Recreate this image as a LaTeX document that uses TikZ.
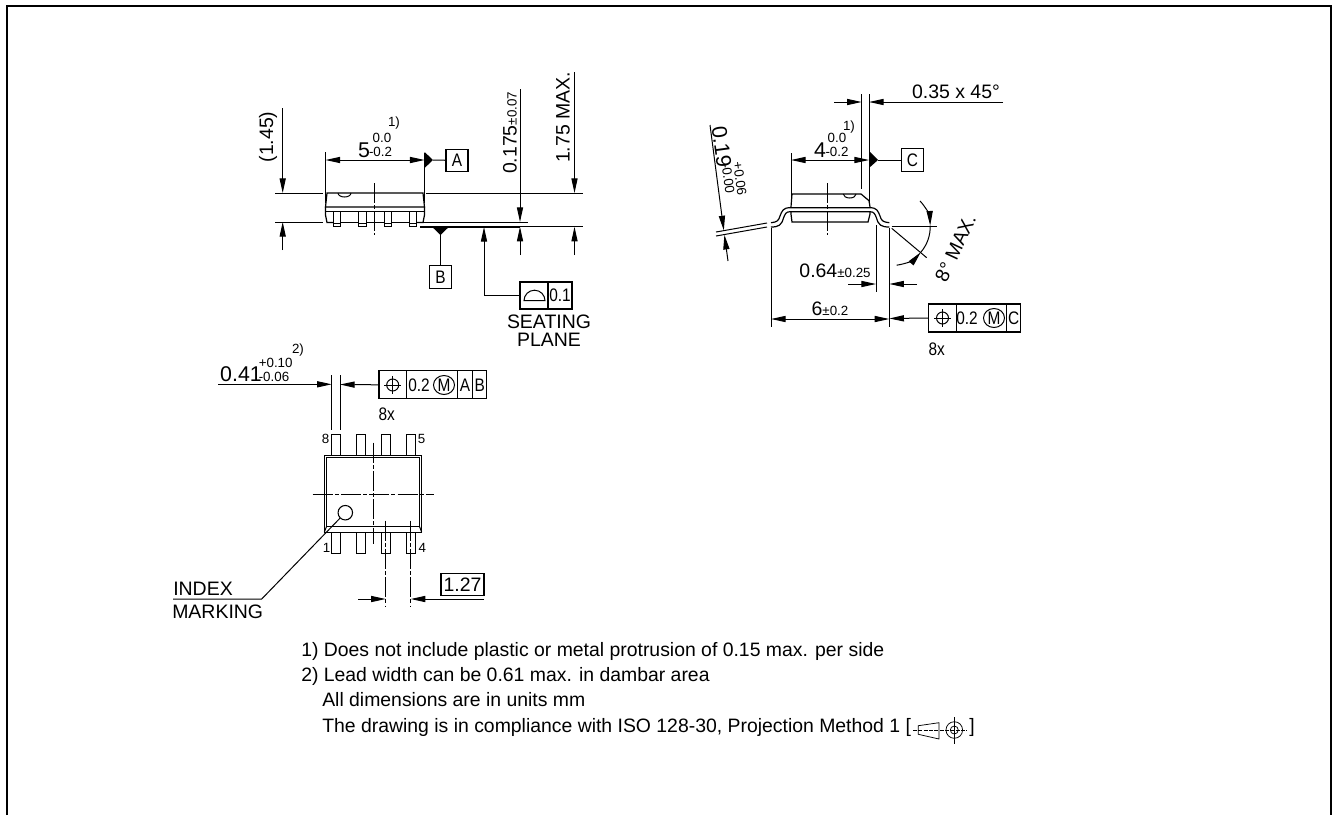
\documentclass[tikz,border=0pt]{standalone}
\usepackage{fontspec}
\usepackage{graphicx}
\setmainfont{Liberation Sans}
\usetikzlibrary{arrows.meta,calc}
\newcommand{\fbig}{\fontsize{14.6}{16}\selectfont}
\newcommand{\fdim}{\fontsize{16}{18}\selectfont}
\newcommand{\fsm}{\fontsize{10}{12}\selectfont}
\newcommand{\fnote}{\fontsize{14.55}{16}\selectfont}
\newcommand{\fiso}{\fontsize{13.6}{15}\selectfont}
\newcommand{\nar}[1]{\scalebox{.85}[1]{#1}}
\newcommand{\possym}[1]{%
  \draw[ln] (#1) circle[radius=6];
  \draw[ln] ($(#1)+(-8.5,0)$) -- ($(#1)+(8.5,0)$);
  \draw[ln] ($(#1)+(0,-9)$) -- ($(#1)+(0,9)$);}
\tikzset{
  ln/.style={line width=.75pt,black},
  thn/.style={line width=.55pt,black},
  bd/.style={line width=.9pt,black,line join=miter},
  cl/.style={line width=.7pt,black,dash pattern=on 15pt off 1.6pt on 3pt off 1.6pt},
  dimarr/.style={-{Triangle[length=11pt,width=4.6pt]}},
  dimboth/.style={{Triangle[length=11pt,width=4.6pt]}-{Triangle[length=11pt,width=4.6pt]}},
  tb/.style={inner sep=0pt,font=\fbig},
  td/.style={inner sep=0pt,font=\fdim},
  ts/.style={inner sep=0pt,font=\fsm},
  tn/.style={inner sep=0pt,font=\fnote,anchor=base west},
  ti/.style={inner sep=0pt,font=\fiso},
  frm/.style={draw,line width=.8pt,inner sep=0pt,minimum width=#1*.75pt,minimum height=22.5*.75pt,font=\fiso},
  frm/.default=22,
}
\begin{document}
\begin{tikzpicture}[x=.75pt,y=-.75pt]
\useasboundingbox (0,0) rectangle (1332,815);
% frame
\coordinate (f1) at (7,815); \coordinate (f2) at (7,6); \coordinate (f3) at (1331,6); \coordinate (f4) at (1331,815);
\draw[line width=.8pt] (f1) -- (f2) -- (f3) -- (f4);

%%%%% SIDE VIEW
\draw[ln] (275,193) -- (323,193);
\draw[ln] (275,222) -- (323,222);
\draw[ln] (426,193) -- (583,193);
\draw[ln] (422,222) -- (528,222);
\draw[line width=1.2pt] (420,226.8) -- (520,226.8);
\draw[ln] (520,226.8) -- (583,226.8);
\draw[ln] (325.5,152) -- (325.5,203);
\draw[ln] (424.6,153) -- (424.6,203);
\draw[dimboth,ln] (325.5,160) -- (424.6,160);
% body
\draw[bd] (327,193) -- (423,193) -- (424.5,207) -- (325.5,207) -- cycle;
\draw[ln] (325.5,211) -- (424.5,211);
\draw[bd] (325.5,207) -- (325.5,215) -- (327,222.5) -- (333.3,222.5);
\draw[bd] (424.5,207) -- (424.5,215) -- (423,222.5) -- (416.7,222.5);
\draw[bd] (340.7,222.5) -- (358.3,222.5) (366,222.5) -- (384,222.5) (391.7,222.5) -- (409.3,222.5);
\foreach \xa/\xb in {333.3/340.7,358.3/366,384/391.7,409.3/416.7}{
  \draw[ln] (\xa,211) rectangle (\xb,226.7);
  \draw[ln] (\xa,223) -- (\xb,223);
}
\draw[ln] (338,193) arc[start angle=180,end angle=0,x radius=6.5,y radius=4];
\draw[cl] (374.3,183) -- (374.3,235);
% (1.45)
\draw[ln,dimarr] (282.7,108) -- (282.7,193);
\draw[ln,dimarr] (282.7,250) -- (282.7,222);
\node[tb,rotate=90] (t145) at (268,137) {(1.45)};
% 0.175
\draw[ln,dimarr] (520,89) -- (520,222);
\draw[ln,dimarr] (520,255) -- (520,226.8);
\node[tb,rotate=90] (t0175) at (510,133) {0.175{\fsm ±0.07}};
% 1.75
\draw[ln,dimarr] (574.5,72) -- (574.5,193);
\draw[ln,dimarr] (574.5,255) -- (574.5,226.8);
\node[tb,rotate=90] (t175) at (563,117.5) {1.75 MAX.};
% 5
\node[td] (t5) at (364,150) {5};
\node[ts] (t5a) at (382,138) {0.0};
\node[ts] (t5b) at (380.5,152) {-0.2};
\node[ts] (t5c) at (394,123) {1)};
% datum A
\node[frm] (boxA) at (457,160.5) {\nar{A}};
\coordinate (dA) at (433,160);
\fill (424.6,152) -- (dA) -- (424.6,168) -- cycle;
\draw[ln] (dA) -- (boxA);
% datum B
\node[frm] (boxB) at (440.5,277) {\nar{B}};
\coordinate (dB) at (440.5,235);
\fill (432,226.8) -- (dB) -- (449,226.8) -- cycle;
\draw[ln] (dB) -- (boxB);
% flatness
\node[draw,line width=.8pt,minimum width=28*.75pt,minimum height=27*.75pt,inner sep=0pt] (fl1) at (534,295.5) {};
\node[draw,line width=.8pt,minimum width=24*.75pt,minimum height=27*.75pt,inner sep=0pt,font=\fiso] (fl2) at (560,295.5) {\nar{0.1}};
\draw[ln] (524,300.7) arc[start angle=180,end angle=360,radius=10.5] -- cycle;
\coordinate (sp) at (484,227);
\draw[ln,{Triangle[length=11pt,width=4.6pt]}-] (sp) |- (fl1.west);
\node[tb,align=center,font=\fbig] (seat1) at (549,322) {SEATING};
\node[tb,font=\fbig] (seat2) at (549,340) {PLANE};

%%%%% END VIEW
\draw[ln] (861.7,94) -- (861.7,189);
\draw[ln] (869,94) -- (869,205);
\coordinate (a35) at (834,102); \coordinate (b35) at (1003,102);
\draw[ln,dimarr] (a35) -- (861.7,102);
\draw[ln,dimarr] (b35) -- (869,102);
\node[tb] (t035) at (956,92) {0.35 x 45°};
\draw[ln] (791,153) -- (791,205);
\draw[ln,dimboth] (791,160) -- (869,160);
\node[td] (t4) at (820,150) {4};
\node[ts] (t4a) at (837,138) {0.0};
\node[ts] (t4b) at (837,152) {-0.2};
\node[ts] (t4c) at (849,127) {1)};
\node[frm] (boxC) at (912.5,160) {\nar{C}};
\coordinate (dC) at (878,160);
\fill (869,151) -- (dC) -- (869,168) -- cycle;
\draw[ln] (dC) -- (boxC);
% body end
\draw[bd] (791,207) -- (792,194) -- (861,194) -- (869,200.7) -- (870,207);
\draw[bd] (791,211.7) -- (791,214) -- (792,222) -- (868,222) -- (870,214) -- (870,211.7);
\draw[ln] (843.3,194) arc[start angle=180,end angle=0,x radius=6.4,y radius=4];
\draw[bd] (771,222.7) .. controls (777,222) and (778.5,221) .. (780,216) .. controls (782,211) and (783,207.7) .. (790,207.7) -- (870,207.7) .. controls (877,207.7) and (878,211) .. (880,216) .. controls (881.5,221) and (883,222) .. (889.3,222.7);
\draw[bd] (771,227) .. controls (779,227) and (781.5,225) .. (783.5,218) .. controls (785,214) and (786,211.7) .. (790,211.7) -- (870,211.7) .. controls (874,211.7) and (875,214) .. (876.5,218) .. controls (878.5,225) and (881,227) .. (889.3,227);
\draw[cl] (827.7,183) -- (827.7,235);
% 0.19
\draw[ln] (716,232) -- (767,223);
\draw[ln] (716,236) -- (767,227);
\draw[ln,dimarr] (710,125) -- (723.8,230.4);
\draw[ln,dimarr] (728,261) -- (724.4,234.8);
\node[td,rotate=-82.3] (t019) at (721.7,146.7) {0.19};
\node[ts,rotate=-82.3] (t019a) at (740,178.5) {+0.06};
\node[ts,rotate=-82.3] (t019b) at (728,178.5) {-0.00};
% extension
\draw[ln] (771,228) -- (771,327);
\draw[ln] (889.3,228) -- (889.3,327);
\draw[ln] (876,225) -- (876,292);
\draw[ln,dimarr] (848,284) -- (876,284);
\draw[ln,dimarr] (917,284) -- (889.3,284);
\node[tb] (t064) at (835,270.5) {0.64{\fsm ±0.25}};
\draw[ln,dimboth] (771,319) -- (889.3,319);
\node[tb] (t6) at (830,308.5) {6{\fsm ±0.2}};
% tol frame C
\node[draw,line width=.8pt,inner sep=0pt,minimum width=28.4*.75pt,minimum height=28*.75pt] (c1) at (942.5,318) {};
\node[draw,line width=.8pt,inner sep=0pt,minimum width=50*.75pt,minimum height=28*.75pt] (c2) at (981.7,318) {};
\node[draw,line width=.8pt,inner sep=0pt,minimum width=14*.75pt,minimum height=28*.75pt,font=\fiso] (c3) at (1013.7,318) {\nar{C}};
\draw[ln,dimarr] (c1.west) -- (889.3,318.5);
\possym{942.5,318}
\node[ti] (c2t) at (967,318) {\nar{0.2}};
\draw[ln] (994,318) ellipse[x radius=10.5,y radius=9.5];
\node[ti] (c2m) at (994,318) {\nar{M}};
\node[ti] (t8xa) at (936.7,349) {\nar{8x}};
% 8 deg
\coordinate (ang) at (891.7,227);
\draw[ln] (891.7,226) -- (937,226);
\draw[ln] (891.7,228.3) -- (926.7,257.7);
\draw[ln,dimarr] ($(ang)+(-42.6:38.5)$) arc[start angle=-42.6,end angle=-2,radius=38.5];
\draw[ln] ($(ang)+(-2:38.5)$) arc[start angle=-2,end angle=41,radius=38.5];
\draw[ln,dimarr] ($(ang)+(82.7:38.5)$) arc[start angle=82.7,end angle=41,radius=38.5];
\node[tb,rotate=65] (t8) at (955.5,248) {8° MAX.};

%%%%% TOP VIEW
\draw[ln] (331.7,375) -- (331.7,430);
\draw[ln] (340,375) -- (340,430);
\node[td] (t041) at (241,374) {0.41};
\node[ts] (t041a) at (275.7,362.7) {+0.10};
\node[ts] (t041b) at (274,376.7) {-0.06};
\node[ts] (t041c) at (298,350) {2)};
\draw[ln,dimarr] (218,384.3) -- (331.7,384.3);
% tol frame AB
\node[draw,line width=.8pt,inner sep=0pt,minimum width=27.7*.75pt,minimum height=28.3*.75pt] (d1) at (392.85,384.8) {};
\node[draw,line width=.8pt,inner sep=0pt,minimum width=50.6*.75pt,minimum height=28.3*.75pt] (d2) at (432,384.8) {};
\node[draw,line width=.8pt,inner sep=0pt,minimum width=15.4*.75pt,minimum height=28.3*.75pt,font=\fiso] (d3) at (465,384.8) {\nar{A}};
\node[draw,line width=.8pt,inner sep=0pt,minimum width=14*.75pt,minimum height=28.3*.75pt,font=\fiso] (d4) at (479.7,384.8) {\nar{B}};
\draw[ln,dimarr] (d1.west) -- (340,384.5);
\possym{392.7,385}
\node[ti] (d2t) at (419,385) {\nar{0.2}};
\draw[ln] (444,385) ellipse[x radius=10.5,y radius=9.5];
\node[ti] (d2m) at (444,385) {\nar{M}};
\node[ti] (t8xb) at (386.7,414) {\nar{8x}};
% body top
\foreach \xa/\xb in {331.7/340,356.7/365,381.7/390,406.7/415}{
  \draw[ln] (\xa,455.7) -- (\xa,434.3) -- (\xb,434.3) -- (\xb,455.7);
  \draw[ln] (\xa,532.3) -- (\xa,553.3) -- (\xb,553.3) -- (\xb,532.3);
}
\draw[bd] (324.3,455.7) rectangle (421.7,532.3);
\draw[ln] (326.7,457.3) rectangle (419.3,526);
\draw[ln] (324.3,532.3) -- (326.7,526);
\draw[ln] (421.7,532.3) -- (419.3,526);
\draw[cl] (373.3,442.7) -- (373.3,544);
\draw[cl] (312.7,494) -- (434,494);
\node[draw,line width=.8pt,circle,minimum size=14.5*.75pt,inner sep=0pt] (idx) at (345.3,512.7) {};
\coordinate (ix1) at (173,599); \coordinate (ix2) at (261.7,599);
\draw[ln] (ix1) -- (ix2) -- (idx);
\node[tb,anchor=west] (tidx) at (173,589) {INDEX};
\node[tb,anchor=west] (tmark) at (172,611.7) {MARKING};
\node[ts] (n1) at (326.7,548) {1};
\node[ts] (n4) at (422.3,548) {4};
\node[ts] (n8) at (325.7,439) {8};
\node[ts] (n5) at (421.7,439) {5};
\draw[cl] (385.7,520.7) -- (385.7,607.3);
\draw[cl] (410.7,520.7) -- (410.7,607.3);
\draw[ln,dimarr] (358.3,599) -- (385.7,599);
\draw[ln,dimarr] (484,599) -- (410.7,599);
\node[draw,line width=.8pt,inner sep=0pt,minimum width=43*.75pt,minimum height=22.4*.75pt,font=\fbig] (t127) at (462.5,584.5) {1.27};

%%%%% NOTES
\node[tn] (note1) at (301,656) {1) Does not include plastic or metal protrusion of 0.15 max. per side};
\node[tn] (note2) at (301,681.5) {2) Lead width can be 0.61 max. in dambar area};
\node[tn] (note3) at (322,706.5) {All dimensions are in units mm};
\node[tn] (note4) at (322,732) {The drawing is in compliance with ISO 128-30, Projection Method 1 [};
\node[tn] (note5) at (969,732) {]};
% projection symbol
\draw[thn] (918.3,725.7) -- (939,722.7) -- (939,739) -- (918.3,734.3) -- cycle;
\draw[thn] (954.3,730) circle[radius=8.3];
\draw[thn] (954.3,730) circle[radius=4];
\draw[thn] (954.3,717) -- (954.3,744);
\draw[thn,dash pattern=on 3pt off 1pt] (913,730) -- (966.7,730);
\end{tikzpicture}
\end{document}
